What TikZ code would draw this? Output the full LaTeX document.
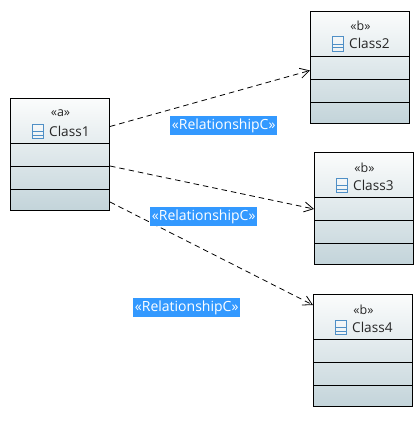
\documentclass[tikz,border=0pt]{standalone}
\usepackage{fontspec}
\setmainfont{Open Sans}
\usetikzlibrary{arrows.meta,calc}
\definecolor{relblue}{HTML}{3399FF}
\definecolor{iconblue}{HTML}{4F8FC6}
\definecolor{boxtop}{HTML}{FBFCFC}
\definecolor{boxbot}{HTML}{C3D4DA}
\tikzset{
  classbox/.style={draw=black,line width=1pt,minimum width=99pt,minimum height=112pt,inner sep=0pt,anchor=north west,top color=boxtop,bottom color=boxbot,middle color=boxtop!50!boxbot},
  classtext/.style={font=\fontsize{13.6pt}{15pt}\selectfont,text=black!85,inner sep=0pt},
  stereo/.style={font=\fontsize{12.5pt}{14pt}\selectfont,text=black!85,inner sep=0pt},
  rellabel/.style={fill=relblue,text=white,font=\fontsize{14pt}{15pt}\selectfont,inner sep=0pt,minimum width=107pt,minimum height=19.5pt,anchor=north west},
  dep/.style={draw=black,line width=0.8pt,dash pattern=on 5.5pt off 4pt,-{Straight Barb[length=9pt,width=10pt,line width=0.8pt]}},
  sep/.style={draw=black,line width=0.9pt},
  iconrect/.style={draw=iconblue,line width=0.9pt},
}
\newcommand{\classshape}[6]{% name, x, y, stereotype, title, unused
  \node[classbox] (#1) at (#2,#3) {};
  \node[stereo] (#1s) at ($(#1.north west)+(50.5pt,-15.5pt)$) {«#4»};
  \node[classtext,anchor=west] (#1t) at ($(#1.north west)+(39pt,-33pt)$) {#5};
  \draw[iconrect,fill=white,fill opacity=0.35] ($(#1.north west)+(22.5pt,-26pt)$) rectangle ($(#1.north west)+(33.5pt,-40.5pt)$);
  \draw[iconrect] ($(#1.north west)+(22.5pt,-33.5pt)$) -- ($(#1.north west)+(33.5pt,-33.5pt)$);
  \draw[iconrect] ($(#1.north west)+(22.5pt,-37pt)$) -- ($(#1.north west)+(33.5pt,-37pt)$);
  \draw[sep] ($(#1.north west)+(0,-45.5pt)$) -- ($(#1.north east)+(0,-45.5pt)$);
  \draw[sep] ($(#1.north west)+(0,-68.5pt)$) -- ($(#1.north east)+(0,-68.5pt)$);
  \draw[sep] ($(#1.north west)+(0,-91.5pt)$) -- ($(#1.north east)+(0,-91.5pt)$);
}
\begin{document}
\begin{tikzpicture}[x=1pt,y=-1pt]
\useasboundingbox (0,0) rectangle (420,421);
\classshape{cone}{10}{98}{a}{Class1}{}
\classshape{ctwo}{310}{10.5}{b}{Class2}{}
\classshape{cthree}{314}{152}{b}{Class3}{}
\classshape{cfour}{313}{294}{b}{Class4}{}
\draw[dep] ($(cone.north east)+(0,-28.5pt)$) -- ($(ctwo.north west)+(0,-60pt)$);
\draw[dep] ($(cone.north east)+(0,-68pt)$) -- ($(cthree.north west)+(0,-57pt)$);
\draw[dep] ($(cone.north east)+(0,-104pt)$) -- ($(cfour.north west)+(0,-11pt)$);
\node[rellabel] (lone) at (170,115.5) {\raisebox{-1.5pt}{«RelationshipC»}};
\node[rellabel] (ltwo) at (150,206.5) {\raisebox{-1.5pt}{«RelationshipC»}};
\node[rellabel] (lthree) at (133,297.5) {\raisebox{-1.5pt}{«RelationshipC»}};
\end{tikzpicture}
\end{document}
